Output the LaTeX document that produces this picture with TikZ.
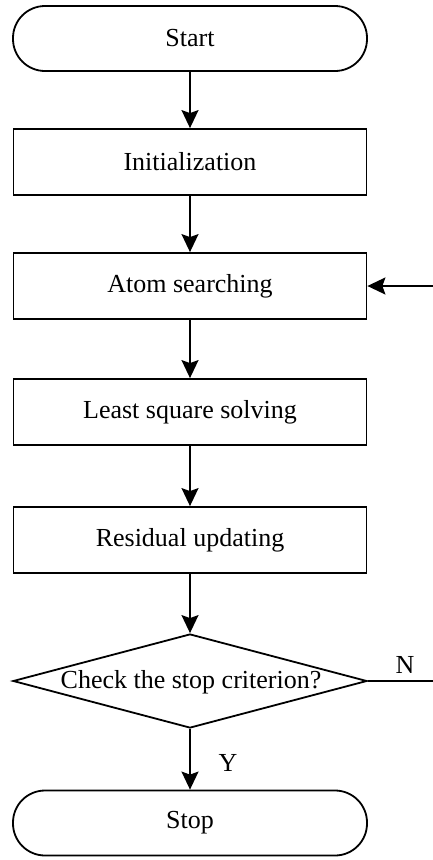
\documentclass[tikz,border=0pt]{standalone}
\usepackage{fontspec}
\setmainfont{Liberation Serif}
\usetikzlibrary{shapes.geometric,arrows.meta}
\begin{document}
\begin{tikzpicture}[x=1pt,y=-1pt,
  every node/.style={font=\fontsize{26}{31}\selectfont},
  termbox/.style={draw,line width=1.8pt,rectangle,rounded corners=32pt,minimum width=354pt,minimum height=65pt,inner sep=0pt},
  procbox/.style={draw,line width=1.8pt,rectangle,minimum width=353pt,minimum height=66pt,inner sep=0pt},
  decbox/.style={draw,line width=1.8pt,diamond,minimum width=354pt,minimum height=94pt,inner sep=0pt},
  flow/.style={line width=1.8pt,-{Stealth[length=18pt,width=17pt,inset=3pt]}},
  lbl/.style={inner sep=0pt}]
\useasboundingbox (0,0) rectangle (432,860);
\node[termbox] (start) at (190,38.5) {Start};
\node[procbox] (init) at (190,162) {Initialization};
\node[procbox] (atom) at (190,286) {Atom searching};
\node[procbox] (ls) at (190,412) {Least square solving};
\node[procbox] (res) at (190,540) {Residual updating};
\node[decbox] (chk) at (190,681) {};
\node[lbl] (chktext) at (191,682) {Check the stop criterion?};
\node[termbox] (stop) at (190,823) {Stop};
\node[lbl] (nlab) at (405,665) {N};
\node[lbl] (ylab) at (228,763) {Y};
\coordinate (corner) at (437,681);
\draw[flow] (start) -- (init);
\draw[flow] (init) -- (atom);
\draw[flow] (atom) -- (ls);
\draw[flow] (ls) -- (res);
\draw[flow] (res) -- (chk);
\draw[flow] (chk) -- (stop);
\draw[flow] (chk.east) -- (corner) |- (atom.east);
\end{tikzpicture}
\end{document}
